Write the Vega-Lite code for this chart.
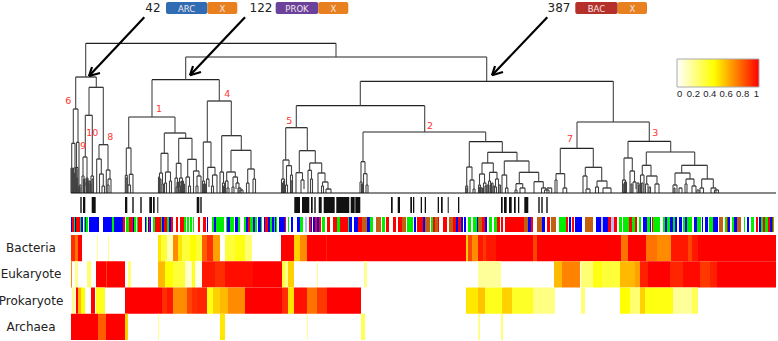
{
"$schema":"https://vega.github.io/schema/vega-lite/v6.json",
"width":778,"height":341,"padding":0,"autosize":"none",
"background":"white",
"config":{"view":{"stroke":null}},
"resolve":{"scale":{"y":"independent","color":"independent"}},
"datasets":{
"tree":[
{"l":85.7,"r":336,"h":149.7,"a":116,"b":136},
{"l":75.7,"r":96.3,"h":116,"a":84,"b":105.7},
{"l":73.3,"r":78,"h":84,"a":49.7,"b":50.7},
{"l":71.7,"r":75,"h":49.7,"a":0,"b":25},
{"l":72.5,"r":73.5,"h":25,"a":0,"b":0},
{"l":74,"r":76,"h":25,"a":0,"b":8},
{"l":76.5,"r":79,"h":50.7,"a":25.5,"b":6},
{"l":75.5,"r":78,"h":25.5,"a":0,"b":6},
{"l":78.5,"r":80,"h":6,"a":0,"b":0},
{"l":89,"r":103.3,"h":105.7,"a":77.7,"b":48.3},
{"l":85.3,"r":92.3,"h":77.7,"a":36,"b":17},
{"l":83,"r":87,"h":36,"a":17,"b":15},
{"l":82,"r":84,"h":17,"a":0,"b":4},
{"l":86,"r":88,"h":15,"a":7,"b":0},
{"l":89,"r":90.5,"h":12,"a":0,"b":0},
{"l":91,"r":93.5,"h":17,"a":0,"b":0},
{"l":99,"r":108,"h":48.3,"a":34,"b":23},
{"l":96.7,"r":101.3,"h":34,"a":0,"b":19},
{"l":99.5,"r":103.3,"h":19,"a":0,"b":7},
{"l":102,"r":104.5,"h":7,"a":0,"b":0},
{"l":106.3,"r":110,"h":23,"a":0,"b":14},
{"l":108,"r":111,"h":14,"a":8,"b":0},
{"l":107.2,"r":109,"h":8,"a":0,"b":0},
{"l":71,"r":72,"h":25,"a":0,"b":0},{"l":72,"r":73,"h":22,"a":0,"b":0},{"l":73.5,"r":74.5,"h":20,"a":0,"b":0},{"l":76,"r":77,"h":24,"a":0,"b":0},{"l":76.5,"r":77.5,"h":15,"a":0,"b":0},{"l":79.5,"r":81,"h":8,"a":0,"b":0},{"l":83.5,"r":84.5,"h":14,"a":0,"b":0},{"l":84,"r":85,"h":11,"a":0,"b":0},{"l":86.5,"r":87.5,"h":14,"a":0,"b":0},{"l":87,"r":88,"h":13,"a":0,"b":0},{"l":88,"r":89,"h":11,"a":0,"b":0},{"l":90,"r":91,"h":9,"a":0,"b":0},{"l":92,"r":93,"h":14,"a":0,"b":0},
{"l":185.7,"r":486.7,"h":136,"a":113.3,"b":111.7},
{"l":152,"r":219.3,"h":113.3,"a":76,"b":92},
{"l":128.7,"r":175,"h":76,"a":45,"b":60},
{"l":126.3,"r":131,"h":45,"a":17.7,"b":18.7},
{"l":125.3,"r":127.3,"h":17.7,"a":0,"b":0},
{"l":126,"r":127,"h":15,"a":0,"b":0},
{"l":129.3,"r":133,"h":18.7,"a":8,"b":0},
{"l":128,"r":130.5,"h":8,"a":0,"b":0},
{"l":164.3,"r":185.7,"h":60,"a":39.7,"b":54.7},
{"l":161,"r":168,"h":39.7,"a":20,"b":21},
{"l":159.5,"r":162.5,"h":20,"a":0,"b":9},
{"l":160,"r":161,"h":14,"a":0,"b":0},
{"l":158.5,"r":159.5,"h":16,"a":0,"b":0},
{"l":162,"r":163.5,"h":9,"a":0,"b":0},
{"l":165.5,"r":170.5,"h":21,"a":10,"b":12},
{"l":164.5,"r":166.5,"h":10,"a":0,"b":0},
{"l":169.5,"r":171.5,"h":12,"a":0,"b":0},
{"l":178.7,"r":192,"h":54.7,"a":29.7,"b":33.7},
{"l":176.3,"r":181,"h":29.7,"a":15,"b":15},
{"l":175,"r":177.5,"h":15,"a":0,"b":6},
{"l":176,"r":178,"h":6,"a":0,"b":0},
{"l":179.5,"r":182.5,"h":15,"a":7,"b":0},
{"l":179,"r":180.5,"h":7,"a":0,"b":0},
{"l":180,"r":181.5,"h":11,"a":0,"b":0},{"l":181.5,"r":183.5,"h":12,"a":0,"b":0},{"l":183.5,"r":184.5,"h":9,"a":0,"b":0},{"l":177,"r":178.5,"h":11,"a":0,"b":0},
{"l":187.7,"r":196.3,"h":33.7,"a":16,"b":22},
{"l":186,"r":189.5,"h":16,"a":0,"b":7},
{"l":188.5,"r":190.5,"h":7,"a":0,"b":0},
{"l":193.5,"r":199,"h":22,"a":0,"b":17},
{"l":197,"r":201,"h":17,"a":7,"b":0},
{"l":196,"r":198,"h":7,"a":0,"b":0},
{"l":207.3,"r":231.3,"h":92,"a":51,"b":57.3},
{"l":203.3,"r":211,"h":51,"a":12,"b":25.7},
{"l":202.5,"r":204.5,"h":12,"a":0,"b":0},
{"l":203.5,"r":205.5,"h":9,"a":0,"b":0},
{"l":207.7,"r":215,"h":25.7,"a":14,"b":18},
{"l":206.5,"r":209,"h":14,"a":0,"b":6},
{"l":212.5,"r":217,"h":18,"a":7,"b":0},
{"l":211.5,"r":213.5,"h":7,"a":0,"b":0},
{"l":221.7,"r":241.3,"h":57.3,"a":21,"b":42.7},
{"l":220,"r":223.5,"h":21,"a":0,"b":10},
{"l":222.5,"r":224.5,"h":10,"a":0,"b":0},
{"l":223.5,"r":225.5,"h":7,"a":0,"b":0},
{"l":231,"r":251,"h":42.7,"a":21,"b":24},
{"l":226.7,"r":235.3,"h":21,"a":12,"b":16},
{"l":225.5,"r":228,"h":12,"a":0,"b":5},
{"l":227,"r":229,"h":5,"a":0,"b":0},
{"l":233,"r":237.5,"h":16,"a":6,"b":10},
{"l":232,"r":234,"h":6,"a":0,"b":0},
{"l":236,"r":239,"h":10,"a":4,"b":0},
{"l":238,"r":241,"h":5,"a":0,"b":0},
{"l":240,"r":243,"h":3,"a":0,"b":0},
{"l":247.7,"r":254.3,"h":24,"a":10,"b":14},
{"l":246.5,"r":249,"h":10,"a":0,"b":0},
{"l":253,"r":255.5,"h":14,"a":0,"b":0},
{"l":360.3,"r":613.3,"h":111.7,"a":87.3,"b":71},
{"l":296.3,"r":424.7,"h":87.3,"a":65.3,"b":61},
{"l":285.7,"r":307.3,"h":65.3,"a":33,"b":42.3},
{"l":283,"r":289,"h":33,"a":14,"b":27.3},
{"l":281.5,"r":284.5,"h":14,"a":0,"b":0},
{"l":282.5,"r":283.5,"h":10,"a":0,"b":0},
{"l":283.5,"r":284.5,"h":12,"a":0,"b":0},
{"l":286.5,"r":291.5,"h":27.3,"a":8,"b":18},
{"l":285.5,"r":287.5,"h":8,"a":0,"b":0},
{"l":290.5,"r":292.5,"h":18,"a":0,"b":0},
{"l":291,"r":292,"h":12,"a":0,"b":0},
{"l":299.3,"r":315.3,"h":42.3,"a":20.3,"b":30},
{"l":296,"r":302.5,"h":20.3,"a":0,"b":13},
{"l":301,"r":304,"h":13,"a":0,"b":4},
{"l":309.7,"r":321.7,"h":30,"a":22.7,"b":20},
{"l":308,"r":311.5,"h":22.7,"a":0,"b":14},
{"l":310.5,"r":312.5,"h":14,"a":0,"b":0},
{"l":318,"r":325,"h":20,"a":0,"b":11},
{"l":322.5,"r":328,"h":11,"a":7,"b":3},
{"l":321.5,"r":323.5,"h":7,"a":0,"b":0},
{"l":326,"r":331,"h":4,"a":0,"b":0},
{"l":363,"r":485.7,"h":61,"a":31.3,"b":51.3},
{"l":361,"r":365,"h":31.3,"a":11,"b":19.3},
{"l":360,"r":362,"h":11,"a":0,"b":0},
{"l":363.5,"r":367,"h":19.3,"a":0,"b":8},
{"l":366,"r":368,"h":8,"a":0,"b":0},
{"l":361.5,"r":362.5,"h":9,"a":0,"b":0},
{"l":469.3,"r":502.3,"h":51.3,"a":26,"b":40.7},
{"l":466.7,"r":472,"h":26,"a":7,"b":13},
{"l":465.7,"r":467.7,"h":7,"a":0,"b":0},
{"l":466.2,"r":467.2,"h":5,"a":0,"b":0},
{"l":470,"r":474,"h":13,"a":0,"b":4},
{"l":473,"r":475,"h":4,"a":0,"b":0},
{"l":487.7,"r":517,"h":40.7,"a":30,"b":32},
{"l":482,"r":493.3,"h":30,"a":19,"b":20.7},
{"l":479.5,"r":484.5,"h":19,"a":8,"b":10},
{"l":478.5,"r":480.5,"h":8,"a":0,"b":0},
{"l":483.5,"r":486,"h":10,"a":0,"b":0},
{"l":481,"r":482.5,"h":5,"a":0,"b":0},
{"l":489.5,"r":497,"h":20.7,"a":12,"b":14},
{"l":488.5,"r":490.5,"h":12,"a":0,"b":0},
{"l":491.5,"r":493,"h":10,"a":0,"b":0},
{"l":495.5,"r":498.5,"h":14,"a":6,"b":0},
{"l":494.5,"r":496.5,"h":6,"a":0,"b":0},
{"l":499,"r":500.5,"h":8,"a":0,"b":0},
{"l":479.5,"r":481,"h":6,"a":0,"b":0},{"l":485,"r":487,"h":7,"a":0,"b":0},{"l":487,"r":488.5,"h":8,"a":0,"b":0},{"l":490,"r":491.5,"h":8,"a":0,"b":0},{"l":493,"r":494.5,"h":7,"a":0,"b":0},
{"l":504.3,"r":529,"h":32,"a":18,"b":20.7},
{"l":502,"r":506.7,"h":18,"a":0,"b":5},
{"l":505.5,"r":508,"h":5,"a":0,"b":0},
{"l":519.3,"r":538.7,"h":20.7,"a":9.3,"b":11.3},
{"l":516,"r":522.7,"h":9.3,"a":3,"b":5},
{"l":515,"r":517,"h":3,"a":0,"b":0},
{"l":520,"r":525,"h":5,"a":0,"b":0},
{"l":534,"r":543.3,"h":11.3,"a":0,"b":5},
{"l":541.5,"r":546,"h":5,"a":0,"b":3},
{"l":544.5,"r":549,"h":3,"a":0,"b":0},
{"l":547,"r":551.7,"h":5,"a":0,"b":0},
{"l":577,"r":649.3,"h":71,"a":44.7,"b":51.7},
{"l":560.3,"r":593.3,"h":44.7,"a":19.3,"b":25.7},
{"l":556,"r":564.7,"h":19.3,"a":13,"b":5},
{"l":555,"r":557,"h":13,"a":0,"b":0},
{"l":563,"r":566.7,"h":5,"a":0,"b":0},
{"l":585.3,"r":601.7,"h":25.7,"a":17,"b":12},
{"l":583,"r":587,"h":17,"a":0,"b":4},
{"l":586,"r":590,"h":4,"a":0,"b":0},
{"l":597,"r":607,"h":12,"a":6,"b":5},
{"l":595.5,"r":598.5,"h":6,"a":0,"b":0},
{"l":603,"r":611,"h":5,"a":0,"b":0},
{"l":628,"r":670.7,"h":51.7,"a":35,"b":41},
{"l":624,"r":632.3,"h":35,"a":13,"b":22},
{"l":622.5,"r":625.5,"h":13,"a":0,"b":0},
{"l":623.2,"r":624.2,"h":9,"a":0,"b":0},
{"l":624.5,"r":626.5,"h":11,"a":0,"b":0},
{"l":630,"r":634.5,"h":22,"a":0,"b":11},
{"l":631,"r":632,"h":9,"a":0,"b":0},
{"l":633,"r":636,"h":11,"a":0,"b":4},
{"l":637,"r":639,"h":10,"a":0,"b":0},
{"l":638.5,"r":640,"h":8,"a":0,"b":0},
{"l":646.3,"r":694.7,"h":41,"a":27.7,"b":27.7},
{"l":642.3,"r":651,"h":27.7,"a":18,"b":17},
{"l":640.5,"r":644,"h":18,"a":0,"b":0},
{"l":641.5,"r":643,"h":10,"a":0,"b":0},
{"l":646.7,"r":657,"h":17,"a":9,"b":9},
{"l":645.5,"r":648,"h":9,"a":0,"b":0},
{"l":649,"r":650.5,"h":6,"a":0,"b":0},
{"l":655,"r":659,"h":9,"a":0,"b":0},
{"l":681.7,"r":707.3,"h":27.7,"a":20,"b":14},
{"l":675,"r":690,"h":20,"a":8,"b":14},
{"l":673,"r":677,"h":8,"a":0,"b":0},
{"l":674,"r":675,"h":5,"a":0,"b":0},
{"l":679,"r":682,"h":5,"a":0,"b":0},
{"l":686,"r":694,"h":14,"a":9,"b":7},
{"l":685,"r":687,"h":9,"a":0,"b":0},
{"l":692,"r":696,"h":7,"a":0,"b":0},
{"l":697,"r":699,"h":3,"a":0,"b":0},
{"l":701.7,"r":713.3,"h":14,"a":5,"b":5},
{"l":700,"r":703.5,"h":5,"a":0,"b":0},
{"l":711,"r":716,"h":5,"a":0,"b":0},
{"l":714.5,"r":718.5,"h":3,"a":0,"b":0}
],
"marks":[
{"s":80.3,"e":81.7},{"s":83,"e":85.3},{"s":91.7,"e":95.7},{"s":125,"e":127.3},{"s":132.3,"e":133.7},{"s":140.3,"e":141.7},{"s":149.3,"e":152},{"s":153,"e":154.7},{"s":157.3,"e":158.3},{"s":196.7,"e":199.3},{"s":200.3,"e":201.7},
{"s":294.3,"e":300},{"s":302,"e":309.3},{"s":311,"e":312.7},{"s":314.3,"e":315.7},{"s":318.7,"e":321.7},{"s":323.7,"e":334.7},{"s":336.3,"e":349.3},{"s":350.7,"e":354.7},{"s":355.3,"e":360.3},{"s":391,"e":392.7},{"s":397.7,"e":400},{"s":410.3,"e":412},{"s":413,"e":414.3},{"s":420.7,"e":422},{"s":424.7,"e":426},
{"s":437.7,"e":439},{"s":441,"e":442.7},{"s":447.7,"e":448.7},{"s":458,"e":459.3},{"s":501,"e":502.7},{"s":504,"e":506.7},{"s":509,"e":511.7},{"s":514,"e":515.7},{"s":518,"e":519.3},{"s":524.3,"e":528.3},{"s":538.3,"e":539.7},{"s":541.3,"e":542.7},{"s":546.3,"e":547.7}
],
"classes":[
{"s":71,"e":72,"c":"A"},{"s":72,"e":74,"c":"C"},{"s":74,"e":75,"c":"B"},{"s":75,"e":76,"c":"A"},{"s":76,"e":80,"c":"C"},{"s":80,"e":81,"c":"B"},{"s":81,"e":83,"c":"A"},{"s":84,"e":85,"c":"B"},{"s":85,"e":86,"c":"A"},{"s":86,"e":88,"c":"B"},
{"s":89,"e":99,"c":"A"},{"s":103,"e":112,"c":"A"},{"s":112,"e":114,"c":"B"},{"s":114,"e":123,"c":"A"},{"s":123,"e":125,"c":"C"},{"s":126,"e":129,"c":"B"},{"s":129,"e":133,"c":"C"},{"s":133,"e":134,"c":"A"},{"s":134,"e":136,"c":"B"},{"s":137,"e":138,"c":"B"},{"s":138,"e":142,"c":"C"},{"s":145,"e":146,"c":"A"},{"s":146,"e":147,"c":"B"},{"s":148,"e":149,"c":"A"},{"s":149,"e":150,"c":"C"},{"s":150,"e":151,"c":"A"},{"s":153,"e":155,"c":"B"},{"s":155,"e":161,"c":"C"},{"s":161,"e":162,"c":"B"},{"s":162,"e":164,"c":"A"},{"s":164,"e":167,"c":"C"},{"s":167,"e":169,"c":"B"},{"s":169,"e":171,"c":"A"},{"s":171,"e":173,"c":"C"},{"s":176,"e":178,"c":"C"},{"s":180,"e":184,"c":"C"},{"s":184,"e":186,"c":"B"},{"s":187,"e":189,"c":"B"},{"s":190,"e":192,"c":"B"},{"s":193,"e":194,"c":"B"},{"s":198,"e":200,"c":"C"},{"s":203,"e":206,"c":"C"},{"s":207,"e":208,"c":"A"},{"s":212,"e":214,"c":"B"},{"s":214,"e":216,"c":"A"},{"s":216,"e":224,"c":"B"},{"s":226,"e":227,"c":"B"},{"s":227,"e":230,"c":"A"},{"s":230,"e":234,"c":"B"},{"s":235,"e":238,"c":"A"},{"s":238,"e":240,"c":"B"},{"s":244,"e":246,"c":"B"},{"s":246,"e":248,"c":"A"},{"s":248,"e":250,"c":"C"},
{"s":250,"e":253,"c":"B"},{"s":253,"e":255,"c":"A"},{"s":255,"e":257,"c":"B"},{"s":258,"e":261,"c":"A"},{"s":261,"e":262,"c":"B"},{"s":264,"e":265,"c":"A"},{"s":265,"e":268,"c":"C"},{"s":268,"e":270,"c":"A"},{"s":270,"e":272,"c":"B"},{"s":272,"e":274,"c":"A"},{"s":274,"e":275,"c":"B"},{"s":275,"e":276,"c":"A"},{"s":276,"e":277,"c":"B"},{"s":279,"e":285,"c":"A"},{"s":285,"e":286,"c":"C"},{"s":288,"e":289,"c":"B"},{"s":291,"e":293,"c":"A"},{"s":297,"e":300,"c":"A"},{"s":300,"e":303,"c":"B"},{"s":305,"e":307,"c":"E"},{"s":309,"e":311,"c":"C"},{"s":311,"e":312,"c":"A"},{"s":313,"e":315,"c":"A"},{"s":315,"e":317,"c":"C"},{"s":317,"e":319,"c":"A"},{"s":319,"e":321,"c":"C"},{"s":322,"e":325,"c":"B"},{"s":327,"e":330,"c":"C"},{"s":333,"e":337,"c":"C"},{"s":337,"e":340,"c":"B"},{"s":340,"e":348,"c":"C"},{"s":348,"e":349,"c":"B"},{"s":349,"e":352,"c":"A"},{"s":354,"e":358,"c":"A"},{"s":358,"e":362,"c":"C"},{"s":362,"e":367,"c":"D"},{"s":367,"e":370,"c":"A"},{"s":370,"e":373,"c":"B"},{"s":376,"e":381,"c":"D"},{"s":382,"e":385,"c":"B"},{"s":386,"e":389,"c":"C"},{"s":393,"e":396,"c":"C"},{"s":398,"e":402,"c":"C"},{"s":402,"e":406,"c":"D"},{"s":407,"e":413,"c":"B"},{"s":414,"e":416,"c":"A"},{"s":417,"e":423,"c":"C"},{"s":423,"e":425,"c":"A"},{"s":425,"e":430,"c":"D"},
{"s":431,"e":433,"c":"B"},{"s":433,"e":435,"c":"C"},{"s":435,"e":438,"c":"D"},{"s":438,"e":439,"c":"C"},{"s":443,"e":447,"c":"C"},{"s":449,"e":453,"c":"D"},{"s":453,"e":456,"c":"C"},{"s":456,"e":458,"c":"A"},{"s":458,"e":461,"c":"C"},{"s":461,"e":463,"c":"A"},{"s":464,"e":466,"c":"A"},{"s":468,"e":471,"c":"B"},{"s":473,"e":477,"c":"B"},{"s":477,"e":478,"c":"A"},{"s":478,"e":482,"c":"D"},{"s":482,"e":485,"c":"C"},{"s":485,"e":487,"c":"A"},{"s":489,"e":492,"c":"B"},{"s":494,"e":497,"c":"B"},{"s":497,"e":500,"c":"C"},{"s":501,"e":503,"c":"C"},{"s":505,"e":524,"c":"C"},{"s":524,"e":528,"c":"D"},{"s":528,"e":531,"c":"A"},{"s":531,"e":533,"c":"C"},{"s":537,"e":542,"c":"D"},{"s":542,"e":545,"c":"A"},{"s":547,"e":550,"c":"C"},{"s":551,"e":556,"c":"D"},{"s":559,"e":566,"c":"B"},{"s":566,"e":568,"c":"C"},{"s":569,"e":571,"c":"A"},{"s":572,"e":574,"c":"C"},{"s":575,"e":582,"c":"A"},{"s":585,"e":593,"c":"D"},{"s":596,"e":600,"c":"A"},
{"s":600,"e":601,"c":"A"},{"s":601,"e":603,"c":"E"},{"s":603,"e":608,"c":"A"},{"s":608,"e":611,"c":"C"},{"s":611,"e":614,"c":"E"},{"s":614,"e":617,"c":"C"},{"s":619,"e":622,"c":"B"},{"s":623,"e":629,"c":"B"},{"s":629,"e":632,"c":"C"},{"s":632,"e":635,"c":"B"},{"s":635,"e":637,"c":"C"},{"s":639,"e":641,"c":"B"},{"s":643,"e":647,"c":"A"},{"s":647,"e":650,"c":"B"},{"s":650,"e":651,"c":"A"},{"s":652,"e":653,"c":"C"},{"s":653,"e":660,"c":"B"},{"s":663,"e":665,"c":"B"},{"s":665,"e":667,"c":"A"},{"s":667,"e":670,"c":"B"},{"s":670,"e":673,"c":"A"},{"s":673,"e":675,"c":"B"},{"s":675,"e":677,"c":"A"},{"s":679,"e":682,"c":"A"},{"s":683,"e":685,"c":"B"},{"s":685,"e":687,"c":"A"},{"s":687,"e":692,"c":"B"},{"s":694,"e":697,"c":"A"},{"s":697,"e":701,"c":"B"},{"s":702,"e":703,"c":"A"},{"s":705,"e":708,"c":"A"},{"s":709,"e":713,"c":"B"},{"s":713,"e":718,"c":"A"},{"s":719,"e":723,"c":"D"},{"s":725,"e":727,"c":"B"},{"s":727,"e":728,"c":"C"},{"s":728,"e":730,"c":"A"},{"s":732,"e":734,"c":"B"},{"s":734,"e":737,"c":"A"},{"s":737,"e":741,"c":"D"},{"s":744,"e":745,"c":"B"},{"s":747,"e":749,"c":"A"},{"s":751,"e":754,"c":"B"},{"s":756,"e":758,"c":"C"},{"s":759,"e":761,"c":"A"},{"s":761,"e":763,"c":"B"},{"s":763,"e":765,"c":"C"},{"s":765,"e":768,"c":"B"},{"s":768,"e":770,"c":"C"},{"s":770,"e":772,"c":"A"},{"s":772,"e":773,"c":"C"},{"s":773,"e":774,"c":"B"}
],
"heat":[
{"k":"Bacteria","s":71,"e":75,"v":0.9},{"k":"Bacteria","s":75,"e":78,"v":0.75},{"k":"Bacteria","s":78,"e":82,"v":1},{"k":"Bacteria","s":97,"e":98,"v":0.2},{"k":"Bacteria","s":108,"e":109,"v":0.2},{"k":"Bacteria","s":158,"e":161,"v":0.5},{"k":"Bacteria","s":161,"e":167,"v":0.35},{"k":"Bacteria","s":167,"e":173,"v":0.13},{"k":"Bacteria","s":173,"e":178,"v":0.7},{"k":"Bacteria","s":178,"e":182,"v":0.5},{"k":"Bacteria","s":182,"e":190,"v":0.35},{"k":"Bacteria","s":190,"e":196,"v":0.45},{"k":"Bacteria","s":196,"e":202,"v":0.35},{"k":"Bacteria","s":202,"e":207,"v":0.8},{"k":"Bacteria","s":207,"e":213,"v":0.9},{"k":"Bacteria","s":213,"e":220,"v":0.65},{"k":"Bacteria","s":225,"e":235,"v":0.35},{"k":"Bacteria","s":235,"e":245,"v":0.42},{"k":"Bacteria","s":245,"e":252,"v":0.25},{"k":"Bacteria","s":281,"e":294,"v":1},{"k":"Bacteria","s":294,"e":300,"v":0.55},{"k":"Bacteria","s":300,"e":307,"v":0.7},{"k":"Bacteria","s":307,"e":326,"v":1},{"k":"Bacteria","s":326,"e":327,"v":0.92},{"k":"Bacteria","s":327,"e":466,"v":1},{"k":"Bacteria","s":466,"e":468,"v":0.55},{"k":"Bacteria","s":468,"e":472,"v":0.85},{"k":"Bacteria","s":472,"e":478,"v":0.7},{"k":"Bacteria","s":478,"e":483,"v":0.95},{"k":"Bacteria","s":483,"e":486,"v":0.88},{"k":"Bacteria","s":486,"e":496,"v":0.95},{"k":"Bacteria","s":496,"e":533,"v":1},{"k":"Bacteria","s":533,"e":537,"v":0.85},{"k":"Bacteria","s":537,"e":621,"v":1},{"k":"Bacteria","s":621,"e":628,"v":0.75},{"k":"Bacteria","s":628,"e":646,"v":1},{"k":"Bacteria","s":646,"e":657,"v":0.75},{"k":"Bacteria","s":657,"e":671,"v":0.7},{"k":"Bacteria","s":671,"e":688,"v":0.95},{"k":"Bacteria","s":688,"e":692,"v":0.85},{"k":"Bacteria","s":692,"e":698,"v":0.95},{"k":"Bacteria","s":698,"e":776,"v":1},
{"k":"Eukaryote","s":71,"e":72,"v":0.7},{"k":"Eukaryote","s":75,"e":78,"v":0.2},{"k":"Eukaryote","s":87,"e":91,"v":0.25},{"k":"Eukaryote","s":96,"e":106,"v":1},{"k":"Eukaryote","s":106,"e":107,"v":0.85},{"k":"Eukaryote","s":107,"e":125,"v":1},{"k":"Eukaryote","s":128,"e":131,"v":0.25},{"k":"Eukaryote","s":158,"e":165,"v":0.6},{"k":"Eukaryote","s":165,"e":173,"v":0.45},{"k":"Eukaryote","s":173,"e":185,"v":0.35},{"k":"Eukaryote","s":185,"e":192,"v":0.1},{"k":"Eukaryote","s":192,"e":195,"v":0.4},{"k":"Eukaryote","s":195,"e":202,"v":0.03},{"k":"Eukaryote","s":202,"e":215,"v":0.95},{"k":"Eukaryote","s":215,"e":225,"v":0.9},{"k":"Eukaryote","s":225,"e":253,"v":0.97},{"k":"Eukaryote","s":253,"e":282,"v":1},{"k":"Eukaryote","s":282,"e":285,"v":0.35},{"k":"Eukaryote","s":285,"e":288,"v":0.2},{"k":"Eukaryote","s":288,"e":294,"v":0.55},{"k":"Eukaryote","s":317,"e":318,"v":0.2},{"k":"Eukaryote","s":364,"e":367,"v":0.2},{"k":"Eukaryote","s":478,"e":501,"v":0.18},{"k":"Eukaryote","s":554,"e":562,"v":0.6},{"k":"Eukaryote","s":562,"e":580,"v":0.72},{"k":"Eukaryote","s":581,"e":593,"v":0.25},{"k":"Eukaryote","s":593,"e":602,"v":0.42},{"k":"Eukaryote","s":602,"e":620,"v":0.35},{"k":"Eukaryote","s":620,"e":635,"v":0.6},{"k":"Eukaryote","s":635,"e":640,"v":0.65},{"k":"Eukaryote","s":640,"e":648,"v":0.93},{"k":"Eukaryote","s":648,"e":670,"v":1},{"k":"Eukaryote","s":670,"e":683,"v":0.92},{"k":"Eukaryote","s":683,"e":700,"v":0.98},{"k":"Eukaryote","s":700,"e":710,"v":0.88},{"k":"Eukaryote","s":710,"e":717,"v":0.93},{"k":"Eukaryote","s":717,"e":776,"v":1},
{"k":"Prokaryote","s":72,"e":75,"v":0.2},{"k":"Prokaryote","s":76,"e":78,"v":1},{"k":"Prokaryote","s":78,"e":81,"v":0.6},{"k":"Prokaryote","s":81,"e":85,"v":0.45},{"k":"Prokaryote","s":91,"e":95,"v":1},{"k":"Prokaryote","s":96,"e":105,"v":0.4},{"k":"Prokaryote","s":125,"e":162,"v":1},{"k":"Prokaryote","s":162,"e":167,"v":0.9},{"k":"Prokaryote","s":167,"e":173,"v":0.95},{"k":"Prokaryote","s":173,"e":187,"v":0.7},{"k":"Prokaryote","s":187,"e":192,"v":0.85},{"k":"Prokaryote","s":192,"e":197,"v":0.9},{"k":"Prokaryote","s":197,"e":207,"v":0.92},{"k":"Prokaryote","s":207,"e":213,"v":0.42},{"k":"Prokaryote","s":213,"e":220,"v":0.55},{"k":"Prokaryote","s":220,"e":228,"v":0.6},{"k":"Prokaryote","s":228,"e":245,"v":0.7},{"k":"Prokaryote","s":245,"e":282,"v":1},{"k":"Prokaryote","s":282,"e":288,"v":0.9},{"k":"Prokaryote","s":288,"e":294,"v":0.5},{"k":"Prokaryote","s":294,"e":307,"v":0.96},{"k":"Prokaryote","s":307,"e":317,"v":0.75},{"k":"Prokaryote","s":317,"e":327,"v":0.88},{"k":"Prokaryote","s":327,"e":361,"v":1},{"k":"Prokaryote","s":466,"e":478,"v":0.5},{"k":"Prokaryote","s":478,"e":485,"v":0.58},{"k":"Prokaryote","s":485,"e":502,"v":0.4},{"k":"Prokaryote","s":502,"e":512,"v":0.55},{"k":"Prokaryote","s":512,"e":533,"v":0.38},{"k":"Prokaryote","s":533,"e":555,"v":0.22},{"k":"Prokaryote","s":581,"e":585,"v":0.25},{"k":"Prokaryote","s":620,"e":630,"v":0.45},{"k":"Prokaryote","s":630,"e":640,"v":0.25},{"k":"Prokaryote","s":640,"e":645,"v":0.55},{"k":"Prokaryote","s":645,"e":673,"v":0.42},{"k":"Prokaryote","s":673,"e":692,"v":0.18},{"k":"Prokaryote","s":692,"e":698,"v":0.3},
{"k":"Archaea","s":71,"e":98,"v":1},{"k":"Archaea","s":98,"e":106,"v":0.8},{"k":"Archaea","s":106,"e":125,"v":1},{"k":"Archaea","s":125,"e":128,"v":0.55},{"k":"Archaea","s":158,"e":159,"v":0.2},{"k":"Archaea","s":220,"e":225,"v":0.5},{"k":"Archaea","s":307,"e":308,"v":0.2},{"k":"Archaea","s":361,"e":365,"v":0.3},{"k":"Archaea","s":478,"e":480,"v":0.2},{"k":"Archaea","s":501,"e":503,"v":0.25}
],
"arrows":[
{"x":144.3,"x2":89,"h":175.7,"h2":117},{"x":89,"x2":92,"h":117,"h2":126},{"x":89,"x2":100,"h":117,"h2":120},
{"x":245,"x2":190,"h":175.7,"h2":117.7},{"x":190,"x2":193,"h":117.7,"h2":127},{"x":190,"x2":201,"h":117.7,"h2":121},
{"x":547.3,"x2":492,"h":175.7,"h2":117.7},{"x":492,"x2":495,"h":117.7,"h2":127},{"x":492,"x2":503,"h":117.7,"h2":121}
],
"badges":[
{"s":166,"e":207.3,"m":186.6,"t":"ARC"},{"s":207.3,"e":237.3,"m":222.3,"t":"X"},{"s":275.7,"e":318.3,"m":297,"t":"PROK"},{"s":318.3,"e":348.3,"m":333.3,"t":"X"},{"s":575.3,"e":617.7,"m":596.5,"t":"BAC"},{"s":617.7,"e":647,"m":632.3,"t":"X"}
],
"counts":[{"x":153,"t":"42"},{"x":261,"t":"122"},{"x":559,"t":"387"}],
"clusters":[
{"x":68.3,"h":92.3,"t":"6"},{"x":83,"h":47,"t":"9"},{"x":92.3,"h":59.7,"t":"10"},{"x":110.3,"h":56.3,"t":"8"},{"x":159,"h":84.3,"t":"1"},{"x":227.3,"h":99.3,"t":"4"},{"x":289.3,"h":72,"t":"5"},{"x":430,"h":67.3,"t":"2"},{"x":570,"h":53.7,"t":"7"},{"x":655.3,"h":60.3,"t":"3"}
],
"baseline":[{"s":71,"e":776}]
},
"layer":[
{"data":{"name":"heat"},"mark":{"type":"rect"},
 "encoding":{"x":{"field":"s","type":"quantitative","axis":null,"scale":{"domain":[0,778],"range":[0,778],"nice":false,"zero":false}},"x2":{"field":"e"},
 "y":{"field":"k","type":"nominal","axis":null,"scale":{"domain":["Bacteria","Eukaryote","Prokaryote","Archaea"],"range":[235,340],"paddingInner":0,"paddingOuter":0}},
 "color":{"field":"v","type":"quantitative","scale":{"domain":[0,0.45,1],"range":["#ffffff","#ffff00","#ff0000"],"interpolate":"rgb"},
  "legend":{"title":null,"orient":"none","legendX":677,"legendY":59,"direction":"horizontal","gradientLength":82,"gradientThickness":28,"values":[0,0.2,0.4,0.6,0.8,1],"format":".1~f","labelFont":"Liberation Sans","labelFontSize":9.5,"labelColor":"#222222","gradientStrokeColor":"#aaaaaa","gradientStrokeWidth":1,"labelOffset":2}}}},
{"data":{"name":"heat"},"transform":[{"aggregate":[{"op":"count","as":"n"}],"groupby":["k"]}],"mark":{"type":"text","font":"DejaVu Sans","fontSize":12,"color":"#222222","align":"center","baseline":"middle"},
 "encoding":{"x":{"datum":31,"type":"quantitative"},
 "y":{"field":"k","type":"nominal","axis":null,"scale":{"domain":["Bacteria","Eukaryote","Prokaryote","Archaea"],"range":[235,340],"paddingInner":0,"paddingOuter":0}},
 "text":{"field":"k"}}},
{"data":{"name":"classes"},"mark":{"type":"rect"},
 "encoding":{"x":{"field":"s","type":"quantitative"},"x2":{"field":"e"},
 "y":{"datum":"class","type":"nominal","axis":null,"scale":{"domain":["class"],"range":[217,232],"paddingInner":0,"paddingOuter":0}},
 "color":{"field":"c","type":"nominal","legend":null,"scale":{"domain":["A","B","C","D","E"],"range":["#0000ff","#00ee00","#ff0000","#c06010","#b8b8ff"]}}}},
{"data":{"name":"marks"},"mark":{"type":"rect","color":"#111111"},
 "encoding":{"x":{"field":"s","type":"quantitative"},"x2":{"field":"e"},
 "y":{"datum":"marker","type":"nominal","axis":null,"scale":{"domain":["marker"],"range":[197,213],"paddingInner":0,"paddingOuter":0}}}},
{"data":{"name":"tree"},"mark":{"type":"rule","color":"#222222","strokeWidth":1.2},
 "encoding":{"x":{"field":"l","type":"quantitative"},"x2":{"field":"r"},
 "y":{"field":"h","type":"quantitative","axis":null,"scale":{"domain":[0,193],"range":[193,0],"nice":false}}}},
{"data":{"name":"tree"},"mark":{"type":"rule","color":"#444444","strokeWidth":1.1},
 "encoding":{"x":{"field":"l","type":"quantitative"},
 "y":{"field":"h","type":"quantitative","axis":null,"scale":{"domain":[0,193],"range":[193,0],"nice":false}},"y2":{"field":"a"}}},
{"data":{"name":"tree"},"mark":{"type":"rule","color":"#444444","strokeWidth":1.1},
 "encoding":{"x":{"field":"r","type":"quantitative"},
 "y":{"field":"h","type":"quantitative","axis":null,"scale":{"domain":[0,193],"range":[193,0],"nice":false}},"y2":{"field":"b"}}},
{"data":{"name":"baseline"},"mark":{"type":"rule","color":"#111111","strokeWidth":1.2},
 "encoding":{"x":{"field":"s","type":"quantitative"},"x2":{"field":"e"},
 "y":{"datum":0,"type":"quantitative","axis":null,"scale":{"domain":[0,193],"range":[193,0],"nice":false}}}},
{"data":{"name":"arrows"},"mark":{"type":"rule","color":"#000000","strokeWidth":2.2},
 "encoding":{"x":{"field":"x","type":"quantitative"},"x2":{"field":"x2"},
 "y":{"field":"h","type":"quantitative","axis":null,"scale":{"domain":[0,193],"range":[193,0],"nice":false}},"y2":{"field":"h2"}}},
{"data":{"name":"badges"},"mark":{"type":"rect","cornerRadius":2},
 "encoding":{"x":{"field":"s","type":"quantitative"},"x2":{"field":"e"},
 "y":{"datum":"badge","type":"nominal","axis":null,"scale":{"domain":["badge"],"range":[2,14],"paddingInner":0,"paddingOuter":0}},
 "color":{"field":"t","type":"nominal","legend":null,"scale":{"domain":["ARC","PROK","BAC","X"],"range":["#2f6cb4","#6a429c","#b5302a","#e8801f"]}}}},
{"data":{"name":"badges"},"mark":{"type":"text","font":"DejaVu Sans","fontSize":8.5,"color":"#f2e6e6","align":"center","baseline":"middle"},
 "encoding":{"x":{"field":"m","type":"quantitative"},
 "y":{"datum":"badge","type":"nominal","axis":null,"scale":{"domain":["badge"],"range":[2,15],"paddingInner":0,"paddingOuter":0}},
 "text":{"field":"t"}}},
{"data":{"name":"counts"},"mark":{"type":"text","font":"DejaVu Sans","fontSize":12,"color":"#222222","align":"center","baseline":"middle"},
 "encoding":{"x":{"field":"x","type":"quantitative"},
 "y":{"datum":185,"type":"quantitative","axis":null,"scale":{"domain":[0,193],"range":[193,0],"nice":false}},
 "text":{"field":"t"}}},
{"data":{"name":"clusters"},"mark":{"type":"text","font":"DejaVu Sans","fontSize":9.5,"color":"#ff3333","align":"center","baseline":"middle"},
 "encoding":{"x":{"field":"x","type":"quantitative"},
 "y":{"field":"h","type":"quantitative","axis":null,"scale":{"domain":[0,193],"range":[193,0],"nice":false}},
 "text":{"field":"t"}}}
]
}
